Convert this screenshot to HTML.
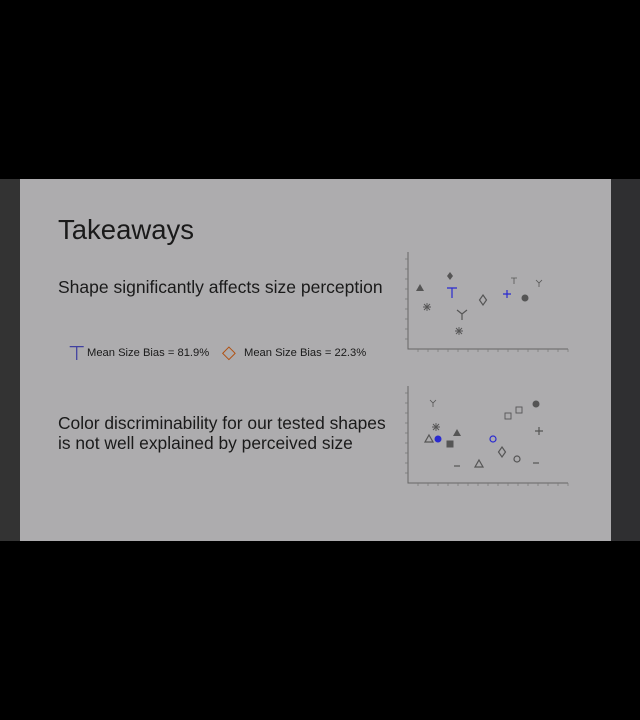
<!DOCTYPE html>
<html><head><meta charset="utf-8"><style>
body{margin:0;width:640px;height:720px;background:#000;position:relative;overflow:hidden;font-family:"Liberation Sans",sans-serif}
.t{position:absolute;color:#1a1a1a;white-space:nowrap}
</style></head><body>
<div style="position:absolute;left:0;top:179px;width:20px;height:362px;background:#333"></div>
<div style="position:absolute;left:611px;top:179px;width:29px;height:362px;background:#2f2f31"></div>
<div style="position:absolute;left:20px;top:179px;width:591px;height:362px;background:#adacae"></div>
<div class="t" style="left:58px;top:214px;font-size:27.5px">Takeaways</div>
<div class="t" style="left:58px;top:277px;font-size:17.5px">Shape significantly affects size perception</div>
<div class="t" style="left:68px;top:341px;font-size:20px;color:#4040a0">⊤</div>
<div class="t" style="left:87px;top:347px;font-size:11.2px">Mean Size Bias = 81.9%</div>
<div class="t" style="left:222px;top:342px;font-size:18px;color:#b05010">◇</div>
<div class="t" style="left:244px;top:347px;font-size:11.2px">Mean Size Bias = 22.3%</div>
<div class="t" style="left:58px;top:413px;font-size:17.4px;line-height:20px">Color discriminability for our tested shapes<br>is not well explained by perceived size</div>
<svg id="svg" width="640" height="720" style="position:absolute;left:0;top:0"></svg>
<script>
const topShapes=["tri","fdia","T","ast","Y","ast","odia","plus","t","circ","y"];
const topX=[1.2,4.2,4.4,1.9,5.4,5.1,7.5,9.9,10.6,11.7,13.1];
const topY=[6.1,7.3,5.6,4.2,3.5,1.8,4.9,5.5,6.8,5.1,6.6];
const topCol=["g","g","b","g","g","g","g","b","g","g","g"];
const botShapes=["y","ast","otri","fcirc","tri","sq","dash","otri","ocirc","odia","osq","osq","circ","plus","ocirc","dash"];
const botX=[2.5,2.8,2.1,3.0,4.9,4.2,4.9,7.1,8.5,9.4,10.0,11.1,12.8,13.1,10.9,12.8];
const botY=[8.0,5.6,4.4,4.4,5.0,3.9,1.7,1.9,4.4,3.1,6.7,7.3,7.9,5.2,2.4,2.0];
const botCol=["g","g","g","b","g","g","g","g","b","g","g","g","g","g","g","g"];
const svg=document.getElementById('svg');const NS='http://www.w3.org/2000/svg';
function mk(t,a){const e=document.createElementNS(NS,t);for(const k in a)e.setAttribute(k,a[k]);svg.appendChild(e);return e;}
function chart(x0,yb,shapes,xs,ys,cols,nm){
  const sx=v=>x0+v*10, sy=v=>yb-v*10;
  const ax=mk('path',{d:`M${x0} ${yb-97}V${yb}H${x0+160}`,stroke:'#666',fill:'none','stroke-width':1});
  
  
  let d='';for(let i=1;i<=16;i++)d+=`M${x0+i*10} ${yb}v3`;for(let i=1;i<=9;i++)d+=`M${x0} ${yb-i*10}h-3`;
  const tk=mk('path',{d:d,stroke:'#777','stroke-width':0.7});
  
  
  shapes.forEach((s,i)=>{
    const x=sx(xs[i]),y=sy(ys[i]),c=cols[i]=='b'?'#2a2ad0':'#555';let e;
    const st={stroke:c,fill:'none','stroke-width':1.2};
    if(s=='tri')e=mk('path',{d:`M${x} ${y-4}l4 7h-8z`,fill:c});
    else if(s=='otri')e=mk('path',Object.assign({d:`M${x} ${y-4}l4 7h-8z`},st));
    else if(s=='fdia')e=mk('path',{d:`M${x} ${y-4}l3 4l-3 4l-3-4z`,fill:c});
    else if(s=='odia')e=mk('path',Object.assign({d:`M${x} ${y-5}l3.5 5l-3.5 5l-3.5-5z`},st));
    else if(s=='T')e=mk('path',Object.assign({d:`M${x-5} ${y-5}h10M${x} ${y-5}v10`},st));
    else if(s=='t')e=mk('path',Object.assign({d:`M${x-3} ${y-3}h6M${x} ${y-3}v6`},st,{'stroke-width':0.8}));
    else if(s=='Y')e=mk('path',Object.assign({d:`M${x-5} ${y-4}L${x} ${y}L${x+5} ${y-4}M${x} ${y}v6`},st));
    else if(s=='y')e=mk('path',Object.assign({d:`M${x-3} ${y-3}L${x} ${y}L${x+3} ${y-3}M${x} ${y}v4`},st,{'stroke-width':0.8}));
    else if(s=='ast')e=mk('path',Object.assign({d:`M${x-4} ${y}h8M${x} ${y-4}v8M${x-3} ${y-3}l6 6M${x+3} ${y-3}l-6 6`},st,{'stroke-width':0.9}));
    else if(s=='plus')e=mk('path',Object.assign({d:`M${x-4} ${y}h8M${x} ${y-4}v8`},st));
    else if(s=='circ'||s=='fcirc')e=mk('circle',{cx:x,cy:y,r:3.5,fill:c});
    else if(s=='ocirc')e=mk('circle',Object.assign({cx:x,cy:y,r:3},st));
    else if(s=='sq')e=mk('rect',{x:x-3.5,y:y-3.5,width:7,height:7,fill:c});
    else if(s=='osq')e=mk('rect',Object.assign({x:x-3,y:y-3,width:6,height:6},st,{'stroke-width':0.9}));
    else if(s=='dash')e=mk('path',Object.assign({d:`M${x-3} ${y}h6`},st));
    
    
  });
}
chart(408,349,topShapes,topX,topY,topCol,'size-chart');
chart(408,483,botShapes,botX,botY,botCol,'color-chart');
</script>
</body></html>
